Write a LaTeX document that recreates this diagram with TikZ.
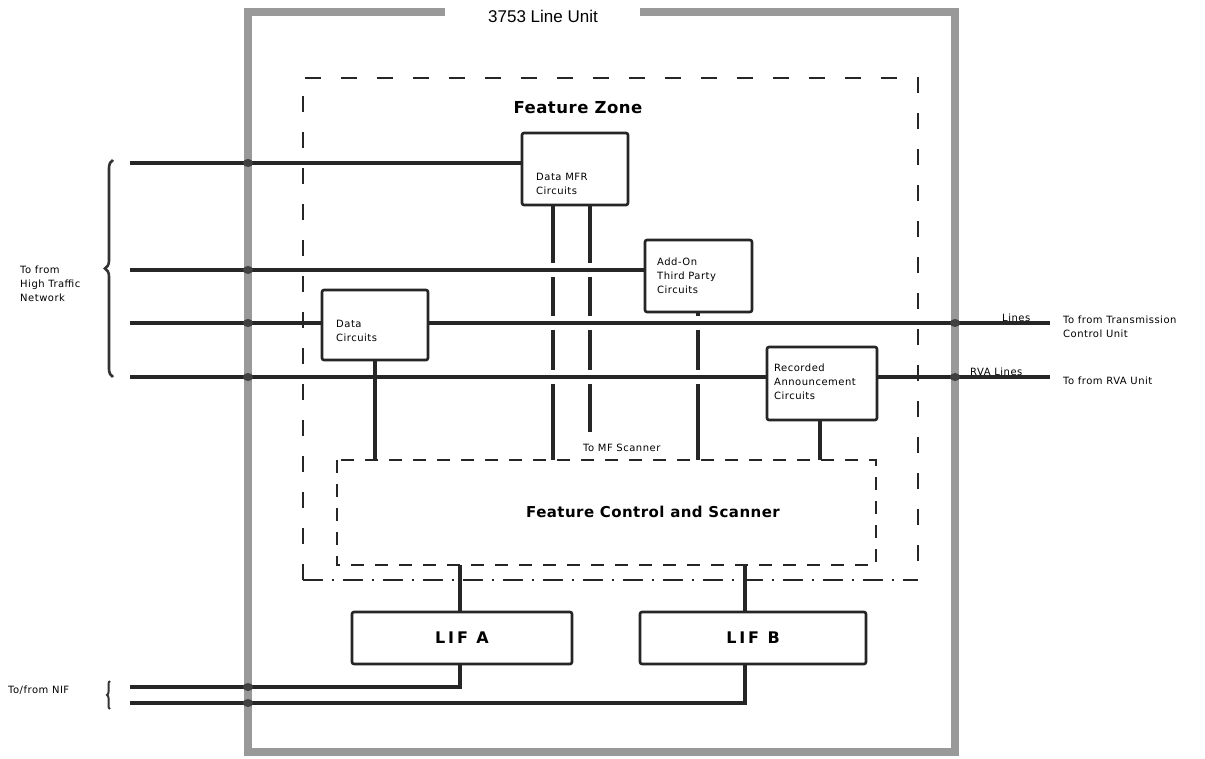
\documentclass[tikz,border=0pt]{standalone}
\usepackage{fontspec}
\setmainfont{Liberation Sans}
\newfontfamily\lblfont[LetterSpace=5]{DejaVu Sans}
\newfontfamily\boldlbl[LetterSpace=3]{DejaVu Sans Bold}
\newfontfamily\liffont[LetterSpace=18]{DejaVu Sans Bold}
\usetikzlibrary{decorations.pathreplacing}
\begin{document}
\begin{tikzpicture}[x=1pt,y=-1pt,
  wire/.style={line width=3.6pt, color=black!85},
  boxed/.style={draw=black!85, line width=2.6pt, rounded corners=2pt, fill=white, inner sep=0pt},
  small/.style={font=\lblfont\fontsize{10}{14}\selectfont, align=left, inner sep=0pt, anchor=west},
  zone/.style={line width=2.6pt, color=black!85, dash pattern=on 16pt off 20pt},
  zonedot/.style={line width=2.6pt, color=black!85, dash pattern=on 20pt off 9pt on 2pt off 9pt},
  fcs/.style={line width=2.4pt, color=black!85, dash pattern=on 13pt off 11pt},
  frame/.style={line width=7.5pt, color=black!40},
  blob/.style={fill=black!75, draw=none},
  bracestyle/.style={line width=2.6pt, color=black!80}
]
\useasboundingbox (0,0) rectangle (1205,759);

% outer frame
\draw[frame] (445,12) -- (248,12) -- (248,752) -- (955,752) -- (955,12) -- (640,12);
\node[font=\fontsize{17}{19}\selectfont, inner sep=0pt] (title) at (543,16) {3753 Line Unit};

% feature zone
\draw[zone] (303,580) -- (303,78) -- (918,78) -- (918,580);
\draw[zonedot] (303,580) -- (918,580);
\node[font=\boldlbl\fontsize{16.5}{19}\selectfont, inner sep=0pt] (fz) at (578,108) {Feature Zone};

% boxes
\node[boxed, minimum width=106pt, minimum height=72pt] (mfr) at (575,169) {};
\node[small] (mfrt) at (536,184) {Data MFR\\Circuits};
\node[boxed, minimum width=107pt, minimum height=72pt] (addon) at (698.5,276) {};
\node[small] (addont) at (657,276) {Add-On\\Third Party\\Circuits};
\node[boxed, minimum width=106pt, minimum height=70pt] (data) at (375,325) {};
\node[small] (datat) at (336,331) {Data\\Circuits};
\node[boxed, minimum width=110pt, minimum height=73pt] (rec) at (822,383.5) {};
\node[small] (rect) at (774,382) {Recorded\\Announcement\\Circuits};

% feature control and scanner
\node[minimum width=539pt, minimum height=105pt, inner sep=0pt] (fcsbox) at (606.5,512.5) {};
\draw[fcs] (fcsbox.north west) rectangle (fcsbox.south east);
\node[font=\boldlbl\fontsize{15}{18}\selectfont, inner sep=0pt] (fcst) at (653,512) {Feature Control and Scanner};

% LIF boxes
\node[boxed, minimum width=220pt, minimum height=52pt, font=\liffont\fontsize{16}{18}\selectfont] (lifa) at (462,638) {LIF A};
\node[boxed, minimum width=226pt, minimum height=52pt, font=\liffont\fontsize{16}{18}\selectfont] (lifb) at (753,638) {LIF B};

% left entry coordinates
\coordinate (inA) at (130,163);
\coordinate (inB) at (130,270);
\coordinate (inC) at (130,323);
\coordinate (inD) at (130,377);
\coordinate (outC) at (1050,323);
\coordinate (outD) at (1050,377);
\coordinate (nifA) at (130,687);
\coordinate (nifB) at (130,703);

% horizontal lines
\draw[wire] (inA) -- (inA -| mfr.west);
\draw[wire] (inB) -- (inB -| addon.west);
\draw[wire] (inC) -- (inC -| data.west);
\draw[wire] (inC -| data.east) -- (outC);
\draw[wire] (inD) -- (inD -| rec.west);
\draw[wire] (inD -| rec.east) -- (outD);

% verticals (broken where they pass the lines)
\draw[wire] (553,205) -- (553,263) (553,277) -- (553,316) (553,330) -- (553,370) (553,384) -- (553,460);
\draw[wire] (590,205) -- (590,263) (590,277) -- (590,316) (590,330) -- (590,370) (590,384) -- (590,432);
\draw[wire] (698,312) -- (698,316) (698,330) -- (698,370) (698,384) -- (698,460);
\draw[wire] (data.south) -- (data.south |- fcsbox.north);
\draw[wire] (820,420) -- (820,460);
\node[small] (mfs) at (583,448) {To MF Scanner};

% LIF connections
\draw[wire] (460,565) -- (460,612);
\draw[wire] (745,565) -- (745,612);
\draw[wire] (460,664) -- (460,687) -- (nifA);
\draw[wire] (745,664) -- (745,703) -- (nifB);

% dark spots where lines cross the frame
\foreach \yy in {163,270,323,377,687,703} \fill[blob] (248,\yy) ellipse (5pt and 4pt);
\foreach \yy in {323,377} \fill[blob] (955,\yy) ellipse (5pt and 4pt);

% labels left
\draw[bracestyle, decorate, decoration={brace, amplitude=8pt}] (113,377) -- (113,160);
\node[small] (htn) at (20,284) {To from\\High Traffic\\Network};
\draw[bracestyle, line width=2pt, decorate, decoration={brace, amplitude=3pt}] (110,709) -- (110,681);
\node[small] (nif) at (8,690) {To/from NIF};

% labels right
\node[small] (lines) at (1002,318) {Lines};
\node[small] (rval) at (970,372) {RVA Lines};
\node[small] (tcu) at (1063,327) {To from Transmission\\Control Unit};
\node[small] (rvau) at (1063,381) {To from RVA Unit};
\end{tikzpicture}
\end{document}
